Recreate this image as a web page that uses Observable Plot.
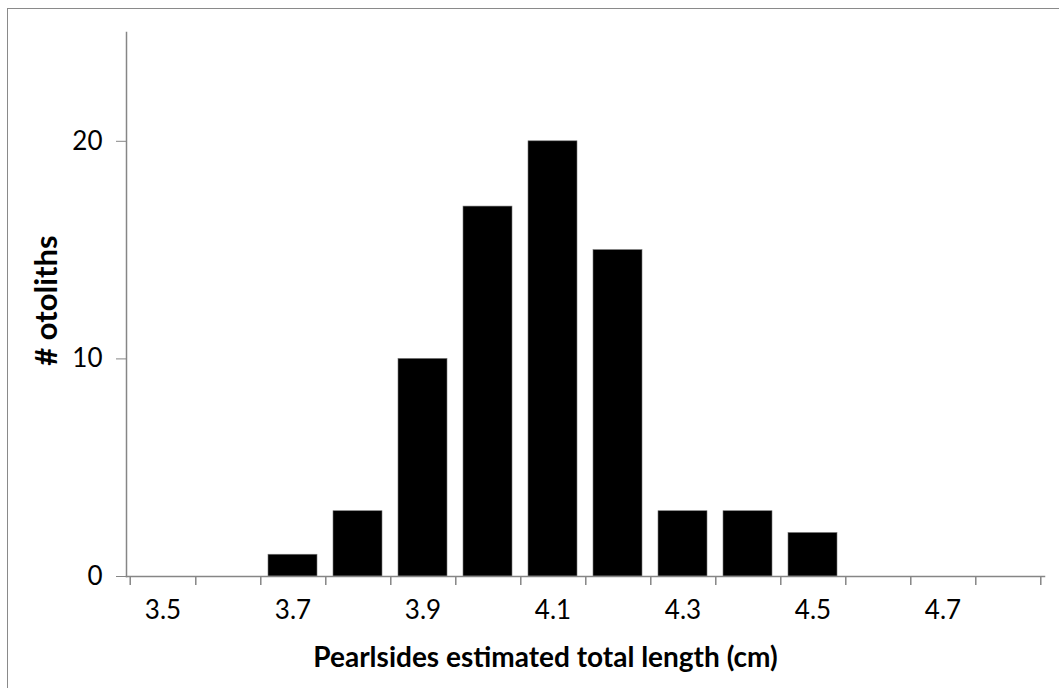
<!DOCTYPE html>
<html>
<head>
<meta charset="utf-8">
<script src="https://cdn.jsdelivr.net/npm/d3@7"></script>
<script src="https://cdn.jsdelivr.net/npm/@observablehq/plot@0.6"></script>
<style>
  html, body { margin: 0; padding: 0; background: #fff; }
  #wrap { position: relative; width: 1059px; height: 688px; overflow: hidden; }
  #border { position: absolute; left: 7px; top: 8px; width: 2000px; height: 2000px;
            border-top: 1.5px solid #8a8a8a; border-left: 1.5px solid #8a8a8a; pointer-events: none; }
</style>
</head>
<body>
<div id="wrap"><div id="border"></div></div>
<script>
const lengths = ["3.5","3.6","3.7","3.8","3.9","4.0","4.1","4.2","4.3","4.4","4.5","4.6","4.7","4.8"];
const counts  = [0, 0, 1, 3, 10, 17, 20, 15, 3, 3, 2, 0, 0, 0];
const xTickLabels = ["3.5","3.7","3.9","4.1","4.3","4.5","4.7"];
const yTicks = [0, 10, 20];
const xTitle = "Pearlsides estimated total length (cm)";
const yTitle = "# otoliths";

const data = lengths.map((l, i) => ({length: l, count: counts[i]}));

const W = 1059, H = 688;
const mL = 126, mR = 15, mT = 32, mB = 112;
const step = (W - mL - mR) / lengths.length;
const axisColor = "#868686";
const font = "Lato, 'Open Sans', sans-serif";

const chart = Plot.plot({
  width: W, height: H,
  marginLeft: mL, marginRight: mR, marginTop: mT, marginBottom: mB,
  style: {fontFamily: font, fontSize: "26px", color: "#000", background: "transparent"},
  x: {type: "band", domain: lengths, paddingInner: 0.24, paddingOuter: 0.12},
  y: {domain: [0, 25]},
  marks: [
    Plot.barY(data, {x: "length", y: "count", fill: "#000", stroke: "#777", strokeWidth: 0.6}),
    Plot.frame({anchor: "left", stroke: axisColor, strokeWidth: 1.5}),
    Plot.frame({anchor: "bottom", stroke: axisColor, strokeWidth: 1.5}),
    Plot.axisY({ticks: yTicks, tickSize: 10, tickPadding: 14, stroke: axisColor, label: null, fontSize: 26}),
    Plot.axisX({ticks: lengths, tickSize: 9, text: null, dx: step / 2, stroke: axisColor, strokeWidth: 1.5, label: null}),
    Plot.axisX({ticks: [lengths[0]], tickSize: 9, text: null, dx: -step / 2, stroke: axisColor, strokeWidth: 1.5, label: null}),
    Plot.axisX({ticks: xTickLabels, tickSize: 0, tickPadding: 24, label: null, fontSize: 26}),
    Plot.text([xTitle], {frameAnchor: "bottom", dx: -40, dy: 90, text: d => d, fontSize: 28, fontWeight: "bold", fill: "#000"}),
    Plot.text([yTitle], {frameAnchor: "left", dx: -79, dy: -4, rotate: -90, textAnchor: "middle", text: d => d, fontSize: 31, fontWeight: "bold", fill: "#000"})
  ]
});
chart.style.position = "absolute";
chart.style.left = "0px";
chart.style.top = "0px";
document.getElementById("wrap").prepend(chart);
</script>
</body>
</html>
